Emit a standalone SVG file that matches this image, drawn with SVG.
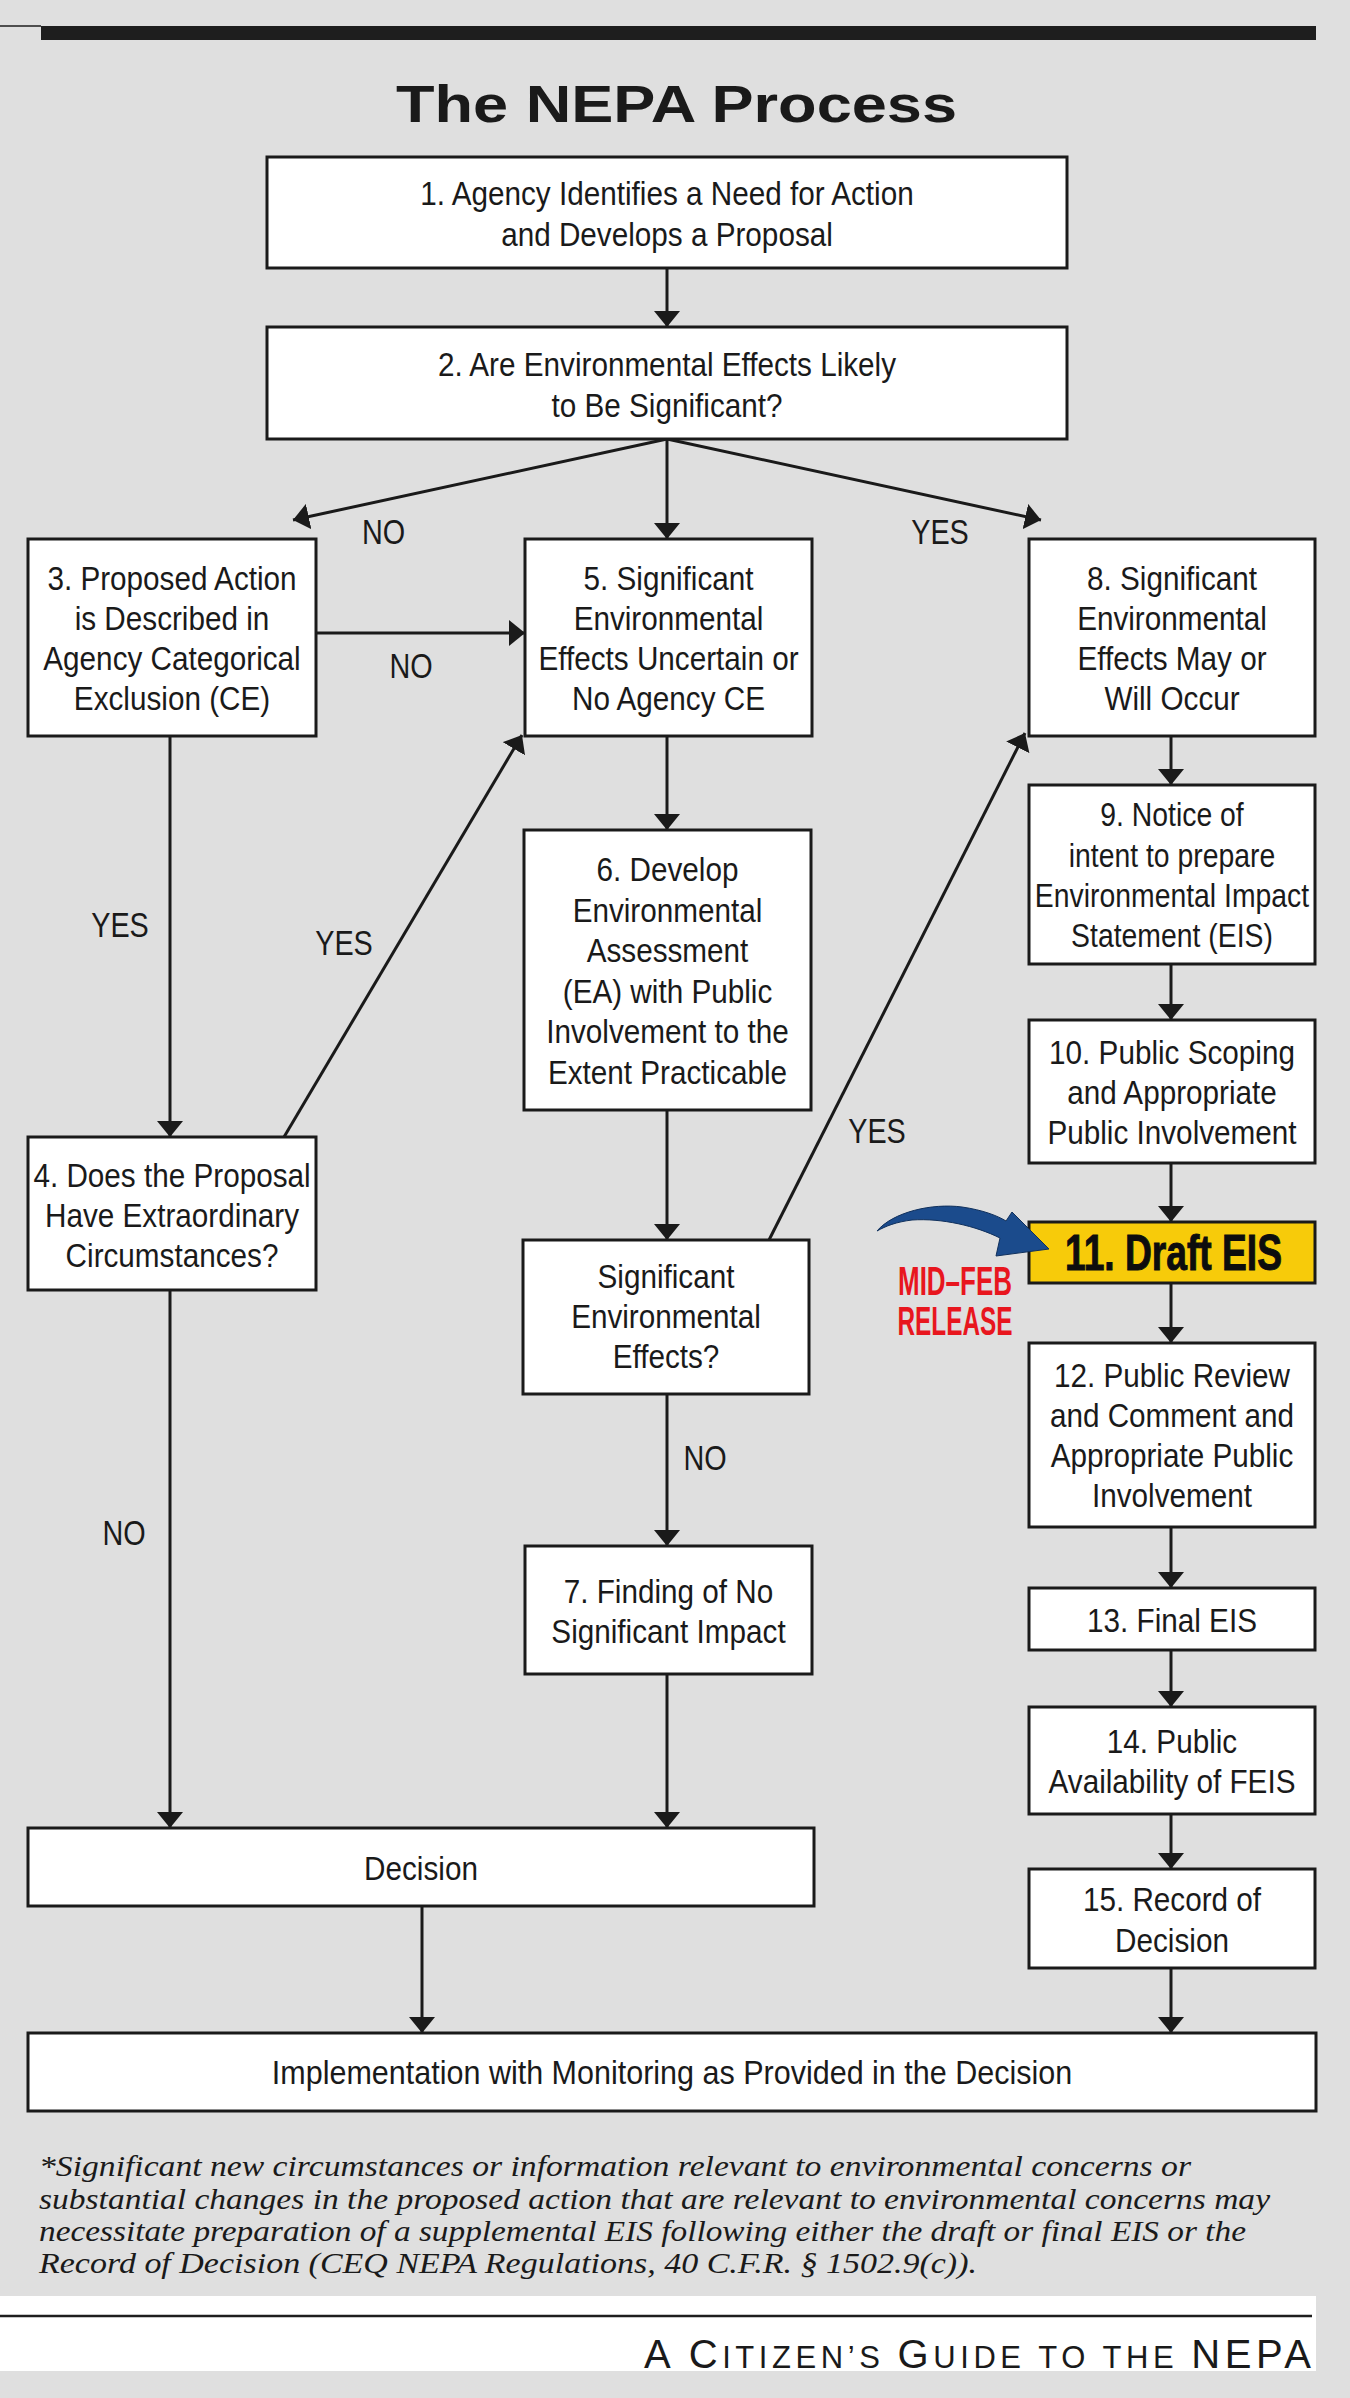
<svg xmlns="http://www.w3.org/2000/svg" width="1350" height="2398" viewBox="0 0 1350 2398">
<style>
.box{fill:#ffffff;stroke:#1a1a1a;stroke-width:3}
.t{font-family:"Liberation Sans",Arial,sans-serif;font-size:33px;fill:#1a1a1a;text-anchor:middle}
.lb{font-family:"Liberation Sans",Arial,sans-serif;font-size:36px;fill:#1a1a1a;text-anchor:middle}
.c{stroke:#1a1a1a;stroke-width:3;fill:none;marker-end:url(#ah)}
.fn{font-family:"Liberation Serif","Times New Roman",serif;font-style:italic;font-size:29px;fill:#1a1a1a}
</style>
<defs>
<marker id="ah" viewBox="0 0 16 26" refX="16" refY="13" markerWidth="16" markerHeight="26" orient="auto" markerUnits="userSpaceOnUse">
<path d="M0,0 L16,13 L0,26 Z" fill="#1a1a1a"/>
</marker>
</defs>
<rect x="0" y="0" width="1350" height="2398" fill="#dfdfdf"/>
<rect x="41" y="26" width="1275" height="14" fill="#1e1e1e"/>
<line x1="0" y1="26" x2="41" y2="26" stroke="#1e1e1e" stroke-width="1.5"/>
<text x="676.5" y="122" font-family="Liberation Sans,Arial,sans-serif" font-weight="bold" font-size="52" fill="#1a1a1a" text-anchor="middle" textLength="561" lengthAdjust="spacingAndGlyphs">The NEPA Process</text>

<g id="connectors">
<line class="c" x1="667" y1="268" x2="667" y2="327"/>
<line class="c" x1="667" y1="439" x2="293" y2="520"/>
<line class="c" x1="667" y1="439" x2="667" y2="539"/>
<line class="c" x1="667" y1="439" x2="1041" y2="520"/>
<line class="c" x1="316" y1="633" x2="525" y2="633"/>
<line class="c" x1="170" y1="736" x2="170" y2="1137"/>
<line class="c" x1="284" y1="1137" x2="522" y2="735"/>
<line class="c" x1="667" y1="736" x2="667" y2="830"/>
<line class="c" x1="667" y1="1110" x2="667" y2="1240"/>
<line class="c" x1="769" y1="1240" x2="1025" y2="733"/>
<line class="c" x1="667" y1="1394" x2="667" y2="1546"/>
<line class="c" x1="170" y1="1290" x2="170" y2="1828"/>
<line class="c" x1="667" y1="1674" x2="667" y2="1828"/>
<line class="c" x1="422" y1="1906" x2="422" y2="2033"/>
<line class="c" x1="1171" y1="736" x2="1171" y2="785"/>
<line class="c" x1="1171" y1="964" x2="1171" y2="1020"/>
<line class="c" x1="1171" y1="1163" x2="1171" y2="1222"/>
<line class="c" x1="1171" y1="1283" x2="1171" y2="1343"/>
<line class="c" x1="1171" y1="1527" x2="1171" y2="1588"/>
<line class="c" x1="1171" y1="1650" x2="1171" y2="1707"/>
<line class="c" x1="1171" y1="1814" x2="1171" y2="1869"/>
<line class="c" x1="1171" y1="1968" x2="1171" y2="2033"/>
<text class="lb" transform="matrix(0.8 0 0 1 383.5 0)" x="0" y="544">NO</text>
<text class="lb" transform="matrix(0.8 0 0 1 940 0)" x="0" y="544">YES</text>
<text class="lb" transform="matrix(0.8 0 0 1 411 0)" x="0" y="678">NO</text>
<text class="lb" transform="matrix(0.8 0 0 1 120 0)" x="0" y="937">YES</text>
<text class="lb" transform="matrix(0.8 0 0 1 344 0)" x="0" y="955">YES</text>
<text class="lb" transform="matrix(0.8 0 0 1 877 0)" x="0" y="1143">YES</text>
<text class="lb" transform="matrix(0.8 0 0 1 705 0)" x="0" y="1470">NO</text>
<text class="lb" transform="matrix(0.8 0 0 1 124 0)" x="0" y="1545">NO</text>
</g>

<g id="n1"><rect class="box" x="267" y="157" width="800" height="111"/>
<text class="t" transform="matrix(0.9 0 0 1 667 0)"><tspan x="0" y="205">1. Agency Identifies a Need for Action</tspan><tspan x="0" y="246">and Develops a Proposal</tspan></text></g>

<g id="n2"><rect class="box" x="267" y="327" width="800" height="112"/>
<text class="t" transform="matrix(0.9 0 0 1 667 0)"><tspan x="0" y="376">2. Are Environmental Effects Likely</tspan><tspan x="0" y="417">to Be Significant?</tspan></text></g>

<g id="n3"><rect class="box" x="28" y="539" width="288" height="197"/>
<text class="t" transform="matrix(0.9 0 0 1 172 0)"><tspan x="0" y="590">3. Proposed Action</tspan><tspan x="0" y="630">is Described in</tspan><tspan x="0" y="670">Agency Categorical</tspan><tspan x="0" y="710">Exclusion (CE)</tspan></text></g>

<g id="n5"><rect class="box" x="525" y="539" width="287" height="197"/>
<text class="t" transform="matrix(0.9 0 0 1 668.5 0)"><tspan x="0" y="590">5. Significant</tspan><tspan x="0" y="630">Environmental</tspan><tspan x="0" y="670">Effects Uncertain or</tspan><tspan x="0" y="710">No Agency CE</tspan></text></g>

<g id="n8"><rect class="box" x="1029" y="539" width="286" height="197"/>
<text class="t" transform="matrix(0.9 0 0 1 1172 0)"><tspan x="0" y="590">8. Significant</tspan><tspan x="0" y="630">Environmental</tspan><tspan x="0" y="670">Effects May or</tspan><tspan x="0" y="710">Will Occur</tspan></text></g>

<g id="n9"><rect class="box" x="1029" y="785" width="286" height="179"/>
<text class="t" transform="matrix(0.86 0 0 1 1172 0)"><tspan x="0" y="826">9. Notice of</tspan><tspan x="0" y="867">intent to prepare</tspan><tspan x="0" y="907">Environmental Impact</tspan><tspan x="0" y="947">Statement (EIS)</tspan></text></g>

<g id="n10"><rect class="box" x="1029" y="1020" width="286" height="143"/>
<text class="t" transform="matrix(0.9 0 0 1 1172 0)"><tspan x="0" y="1064">10. Public Scoping</tspan><tspan x="0" y="1104">and Appropriate</tspan><tspan x="0" y="1144">Public Involvement</tspan></text></g>

<g id="n11"><rect x="1029" y="1222" width="286" height="61" fill="#f7cb0a" stroke="#1a1a1a" stroke-width="3"/>
<text x="1173.5" y="1270" font-family="Liberation Sans,Arial,sans-serif" font-weight="bold" font-size="50" fill="#0d0d0d" text-anchor="middle" textLength="217" lengthAdjust="spacingAndGlyphs" stroke="#0d0d0d" stroke-width="1">11. Draft EIS</text></g>

<g id="midfeb">
<path d="M877,1231 C893,1212 932,1203 962,1207 C983,1210 998,1216 1006,1221 L1012,1212 L1049,1249 L996,1256 L1000,1238 C976,1226 942,1218 912,1220 C896,1222 886,1226 877,1231 Z" fill="#1b4b8c" stroke="#10305c" stroke-width="1"/>
<text x="955" y="1295" font-family="Liberation Sans,Arial,sans-serif" font-weight="bold" font-size="40" fill="#e8161e" text-anchor="middle" textLength="114" lengthAdjust="spacingAndGlyphs">MID–FEB</text>
<text x="955" y="1335" font-family="Liberation Sans,Arial,sans-serif" font-weight="bold" font-size="40" fill="#e8161e" text-anchor="middle" textLength="115" lengthAdjust="spacingAndGlyphs">RELEASE</text>
</g>

<g id="n12"><rect class="box" x="1029" y="1343" width="286" height="184"/>
<text class="t" transform="matrix(0.9 0 0 1 1172 0)"><tspan x="0" y="1387">12. Public Review</tspan><tspan x="0" y="1427">and Comment and</tspan><tspan x="0" y="1467">Appropriate Public</tspan><tspan x="0" y="1507">Involvement</tspan></text></g>

<g id="n13"><rect class="box" x="1029" y="1588" width="286" height="62"/>
<text class="t" transform="matrix(0.9 0 0 1 1172 0)"><tspan x="0" y="1632">13. Final EIS</tspan></text></g>

<g id="n14"><rect class="box" x="1029" y="1707" width="286" height="107"/>
<text class="t" transform="matrix(0.9 0 0 1 1172 0)"><tspan x="0" y="1753">14. Public</tspan><tspan x="0" y="1793">Availability of FEIS</tspan></text></g>

<g id="n15"><rect class="box" x="1029" y="1869" width="286" height="99"/>
<text class="t" transform="matrix(0.9 0 0 1 1172 0)"><tspan x="0" y="1911">15. Record of</tspan><tspan x="0" y="1952">Decision</tspan></text></g>

<g id="n4"><rect class="box" x="28" y="1137" width="288" height="153"/>
<text class="t" transform="matrix(0.9 0 0 1 172 0)"><tspan x="0" y="1187">4. Does the Proposal</tspan><tspan x="0" y="1227">Have Extraordinary</tspan><tspan x="0" y="1267">Circumstances?</tspan></text></g>

<g id="n6"><rect class="box" x="524" y="830" width="287" height="280"/>
<text class="t" transform="matrix(0.9 0 0 1 667.5 0)"><tspan x="0" y="881">6. Develop</tspan><tspan x="0" y="922">Environmental</tspan><tspan x="0" y="962">Assessment</tspan><tspan x="0" y="1003">(EA) with Public</tspan><tspan x="0" y="1043">Involvement to the</tspan><tspan x="0" y="1084">Extent Practicable</tspan></text></g>

<g id="nsig"><rect class="box" x="523" y="1240" width="286" height="154"/>
<text class="t" transform="matrix(0.9 0 0 1 666 0)"><tspan x="0" y="1288">Significant</tspan><tspan x="0" y="1328">Environmental</tspan><tspan x="0" y="1368">Effects?</tspan></text></g>

<g id="n7"><rect class="box" x="525" y="1546" width="287" height="128"/>
<text class="t" transform="matrix(0.9 0 0 1 668.5 0)"><tspan x="0" y="1603">7. Finding of No</tspan><tspan x="0" y="1643">Significant Impact</tspan></text></g>

<g id="ndecision"><rect class="box" x="28" y="1828" width="786" height="78"/>
<text class="t" transform="matrix(0.9 0 0 1 421 0)"><tspan x="0" y="1880">Decision</tspan></text></g>

<g id="nimpl"><rect class="box" x="28" y="2033" width="1288" height="78"/>
<text class="t" transform="matrix(0.925 0 0 1 672 0)"><tspan x="0" y="2084">Implementation with Monitoring as Provided in the Decision</tspan></text></g>

<g id="footnote">
<text class="fn" x="39" y="2176" textLength="1152" lengthAdjust="spacingAndGlyphs">*Significant new circumstances or information relevant to environmental concerns or</text>
<text class="fn" x="39" y="2209" textLength="1231" lengthAdjust="spacingAndGlyphs">substantial changes in the proposed action that are relevant to environmental concerns may</text>
<text class="fn" x="39" y="2241" textLength="1207" lengthAdjust="spacingAndGlyphs">necessitate preparation of a supplemental EIS following either the draft or final EIS or the</text>
<text class="fn" x="39" y="2273" textLength="938" lengthAdjust="spacingAndGlyphs">Record of Decision (CEQ NEPA Regulations, 40 C.F.R. § 1502.9(c)).</text>
</g>

<g id="footer">
<rect x="0" y="2296" width="1316" height="75" fill="#ffffff"/>
<line x1="0" y1="2316" x2="1312" y2="2316" stroke="#1e1e1e" stroke-width="2.5"/>
<text x="644" y="2368" font-family="Liberation Sans,Arial,sans-serif" font-size="40" fill="#1a1a1a" textLength="667" lengthAdjust="spacing">A C<tspan font-size="31">ITIZEN’S </tspan>G<tspan font-size="31">UIDE TO THE </tspan>NEPA</text>
</g>
</svg>
